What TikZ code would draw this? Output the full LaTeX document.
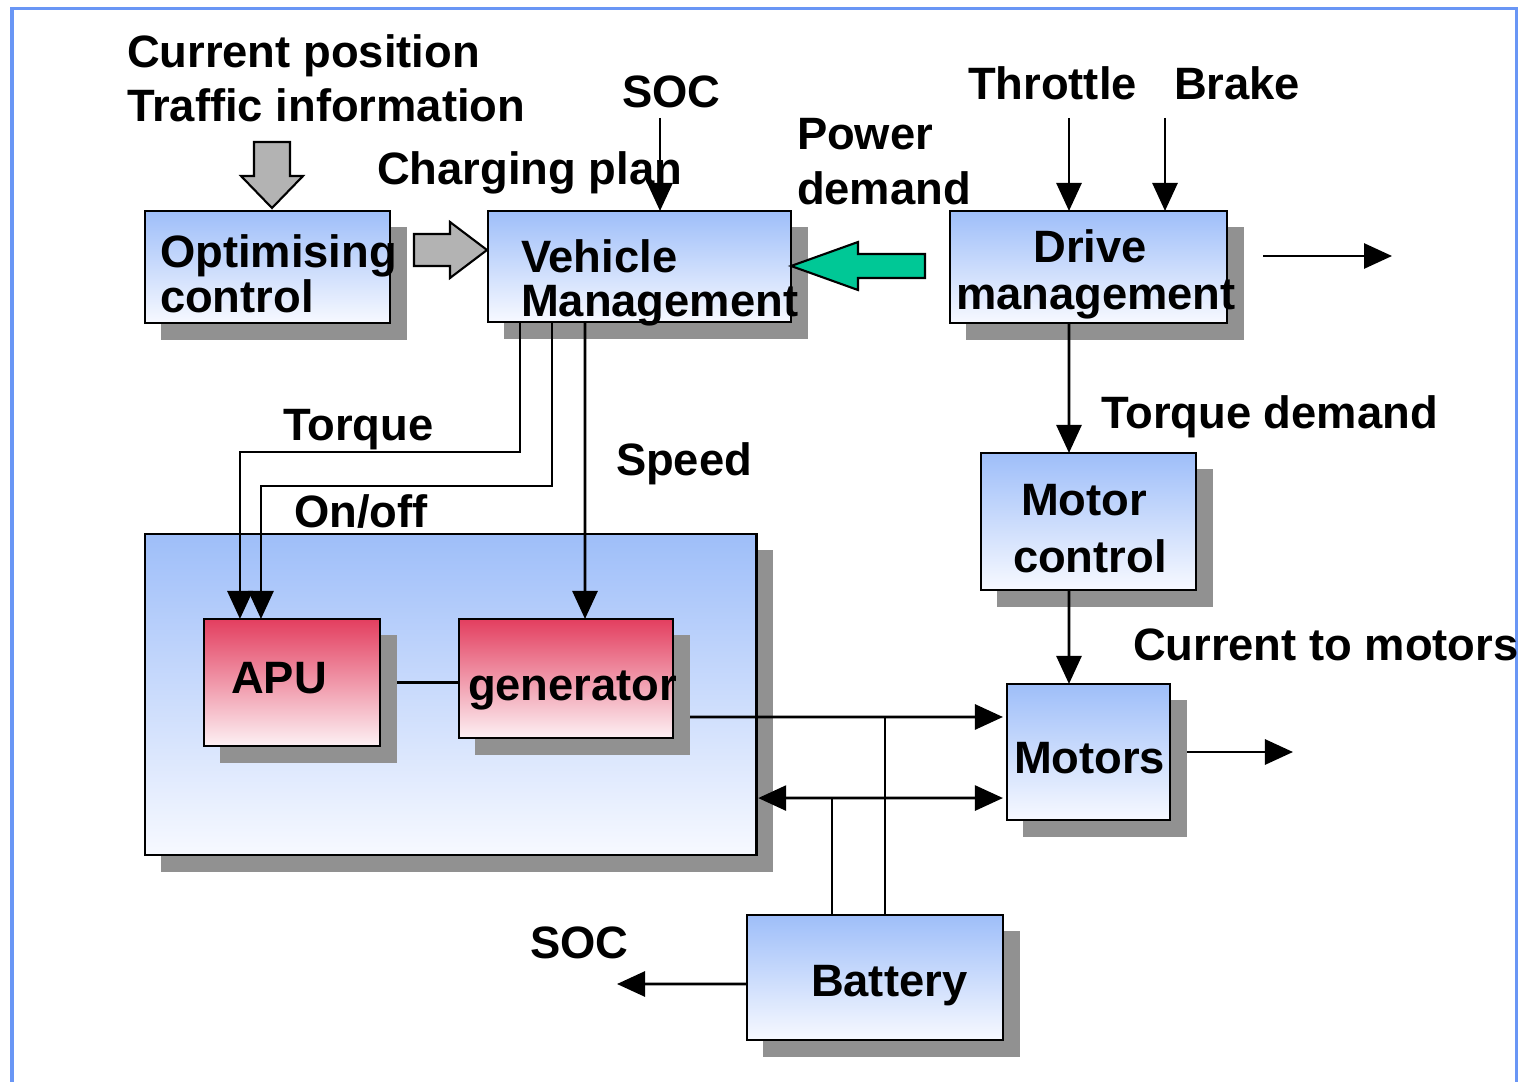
\documentclass[tikz,border=0pt]{standalone}
\usepackage{fontspec}
\setmainfont{Liberation Sans}
\usetikzlibrary{arrows.meta,shadows}
\definecolor{frameblue}{RGB}{105,150,245}
\definecolor{boxtop}{RGB}{158,190,249}
\definecolor{boxbot}{RGB}{247,249,255}
\definecolor{redtop}{RGB}{227,62,95}
\definecolor{redbot}{RGB}{253,241,244}
\definecolor{shadowgray}{RGB}{145,145,145}
\definecolor{arrowgray}{RGB}{179,179,179}
\definecolor{arrowgreen}{RGB}{0,200,150}
\begin{document}
\begin{tikzpicture}[x=0.01cm,y=-0.01cm,
  boxbase/.style={draw=black, line width=0.75pt, inner sep=0pt, outer sep=0pt,
    general shadow={fill=shadowgray, shadow xshift=0.165cm, shadow yshift=-0.165cm}},
  bluebox/.style={boxbase, top color=boxtop, bottom color=boxbot},
  redbox/.style={boxbase, top color=redtop, bottom color=redbot},
  lbl/.style={anchor=base west, inner sep=0pt, outer sep=0pt, font=\fontsize{12.9pt}{14pt}\selectfont\bfseries},
  clbl/.style={lbl, anchor=base},
  conn/.style={line width=0.8pt},
  arr/.style={conn, -{Triangle[length=0.28cm,width=0.25cm]}},
  arrboth/.style={conn, {Triangle[length=0.28cm,width=0.25cm]}-{Triangle[length=0.28cm,width=0.25cm]}},
  blockarrow/.style={draw=black, line width=0.6pt}
]
\clip (0,0) rectangle (1521,1082);
% frame
\draw[frameblue, line width=0.03cm] (12,1100) -- (12,9) -- (1516,9) -- (1516,1100);

% boxes
\node[bluebox, minimum width=6.11cm, minimum height=3.21cm] (big) at (450.5,694.5) {};
\node[redbox, minimum width=1.76cm, minimum height=1.27cm] (apu) at (292,682.5) {};
\node[redbox, minimum width=2.14cm, minimum height=1.19cm] (gen) at (566,678.5) {};
\node[bluebox, minimum width=2.45cm, minimum height=1.12cm] (opt) at (267.5,267) {};
\node[bluebox, minimum width=3.03cm, minimum height=1.11cm] (vm) at (639.5,266.5) {};
\node[bluebox, minimum width=2.77cm, minimum height=1.12cm] (dm) at (1088.5,267) {};
\node[bluebox, minimum width=2.15cm, minimum height=1.37cm] (mc) at (1088.5,521.5) {};
\node[bluebox, minimum width=1.63cm, minimum height=1.36cm] (mot) at (1088.5,752) {};
\node[bluebox, minimum width=2.56cm, minimum height=1.25cm] (bat) at (875,977.5) {};

% free ends
\coordinate (socin) at (660,118);
\coordinate (thr) at (1069,118);
\coordinate (brk) at (1165,118);
\coordinate (dmoutA) at (1263,256);
\coordinate (dmoutB) at (1392,256);
\coordinate (motout) at (1293,752);
\coordinate (socout) at (617,984);

% block arrows
\draw[blockarrow, fill=arrowgray] (254,142) -- (290,142) -- (290,176) -- (303,176) -- (272,208) -- (241,176) -- (254,176) -- cycle;
\draw[blockarrow, fill=arrowgray] (414,234) -- (450,234) -- (450,222) -- (487,250) -- (450,278) -- (450,266) -- (414,266) -- cycle;
\draw[blockarrow, fill=arrowgreen] (vm.east |- 0,266) -- (858,242) -- (858,254) -- (925,254) -- (925,278) -- (858,278) -- (858,290) -- cycle;

% connectors
\draw[arr] (socin) -- (socin |- vm.north);
\draw[arr] (thr) -- (thr |- dm.north);
\draw[arr] (brk) -- (brk |- dm.north);
\draw[arr] (dmoutA) -- (dmoutB);
\draw[arr] ([xshift=1.19cm]dm.south west) -- ([xshift=0.88cm]mc.north west);
\draw[arr] ([xshift=0.88cm]mc.south west) -- ([xshift=0.62cm]mot.north west);
\draw[arr] ([xshift=0.17cm]mot.east) -- (motout);
\draw[arr] ([xshift=0.32cm]vm.south west) -- ++(0,130) -| ([xshift=0.36cm]apu.north west);
\draw[arr] ([xshift=0.64cm]vm.south west) -- ++(0,164) -| ([xshift=0.57cm]apu.north west);
\draw[arr] ([xshift=0.97cm]vm.south west) -- ([xshift=1.26cm]gen.north west);
\draw[conn] ([xshift=0.17cm]apu.east) -- (apu.east -| gen.west);
\draw[arr] ([xshift=0.17cm,yshift=-0.385cm]gen.east) -- ([xshift=-0.04cm,yshift=0.35cm]mot.west);
\draw[arrboth] ([xshift=0.02cm,yshift=-1.035cm]big.east) -- ([xshift=-0.04cm,yshift=-0.46cm]mot.west);
\draw[conn] ([xshift=0.85cm]bat.north west) -- ++(0,-117);
\draw[conn] ([xshift=1.38cm]bat.north west) -- ++(0,-198);
\draw[arr] ([yshift=-0.065cm]bat.west) -- (socout);

% labels
\node[lbl] (tcur) at (127,68) {Current position};
\node[lbl] (ttraf) at (127,122) {Traffic information};
\node[lbl] (tsoc) at (622,108) {SOC};
\node[lbl] (tchg) at (377,185) {Charging plan};
\node[lbl] (tpow) at (797,150) {Power};
\node[lbl] (tdem) at (797,205) {demand};
\node[lbl] (tthr) at (968,100) {Throttle};
\node[lbl] (tbrk) at (1174,100) {Brake};
\node[lbl] (topt1) at (160,268) {Optimising};
\node[lbl] (topt2) at (160,312) {control};
\node[lbl] (tvm1) at (521,273) {Vehicle};
\node[lbl] (tvm2) at (521,316) {Management};
\node[clbl] (tdm1) at (1090,262) {Drive};
\node[lbl] (tdm2) at (956,309) {management};
\node[lbl] (ttq) at (283,440) {Torque};
\node[lbl] (tspd) at (616,475) {Speed};
\node[lbl] (tonoff) at (294,527) {On/off};
\node[lbl] (ttqd) at (1101,428) {Torque demand};
\node[lbl] (tmc1) at (1021,515) {Motor};
\node[lbl] (tmc2) at (1013,572) {control};
\node[lbl] (tcur2) at (1133,660) {Current to motors};
\node[lbl] (tapu) at (231,693) {APU};
\node[lbl] (tgen) at (468,700) {generator};
\node[lbl] (tmot) at (1014,773) {Motors};
\node[lbl] (tbat) at (811,996) {Battery};
\node[lbl] (tsoc2) at (530,958) {SOC};
\end{tikzpicture}
\end{document}
